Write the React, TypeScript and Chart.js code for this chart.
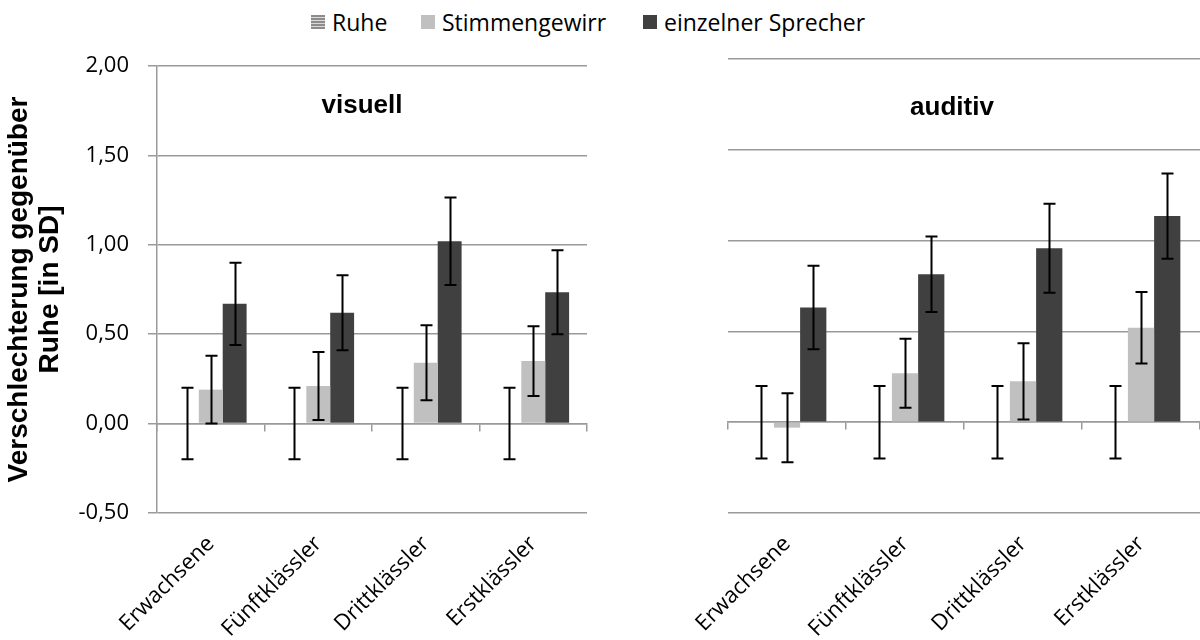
import React, { useEffect, useRef } from 'react';
import { Chart, registerables } from 'chart.js';

Chart.register(...registerables);

// ---------- data ----------
const categories = ['Erwachsene', 'Fünftklässler', 'Drittklässler', 'Erstklässler'];
const seriesNames = ['Ruhe', 'Stimmengewirr', 'einzelner Sprecher'];
const yTickValues = [-0.5, 0, 0.5, 1, 1.5, 2];

const visuellRuhe = [0, 0, 0, 0];
const visuellRuheErr = [0.2, 0.2, 0.2, 0.2];
const visuellStimmen = [0.19, 0.21, 0.34, 0.35];
const visuellStimmenErr = [0.19, 0.19, 0.21, 0.195];
const visuellSprecher = [0.67, 0.62, 1.02, 0.735];
const visuellSprecherErr = [0.23, 0.21, 0.245, 0.235];

const auditivRuhe = [0, 0, 0, 0];
const auditivRuheErr = [0.2, 0.2, 0.2, 0.2];
const auditivStimmen = [-0.03, 0.27, 0.225, 0.52];
const auditivStimmenErr = [0.19, 0.19, 0.21, 0.197];
const auditivSprecher = [0.632, 0.815, 0.958, 1.135];
const auditivSprecherErr = [0.23, 0.208, 0.245, 0.235];

// ---------- styles ----------
const COLOR_RUHE = '#a6a6a6';
const COLOR_STIMMEN = '#c0c0c0';
const COLOR_SPRECHER = '#404040';
const GRID = '#9a9a9a';
const LABEL_FONT = 'Open Sans';
const TITLE_FONT = 'Liberation Sans';

const errorBarPlugin = {
  id: 'errorBars',
  afterDatasetsDraw(chart: any) {
    const { ctx } = chart;
    const yScale = chart.scales.y;
    chart.data.datasets.forEach((ds: any, di: number) => {
      const errs: number[] | undefined = ds.errors;
      if (!errs) return;
      const meta = chart.getDatasetMeta(di);
      meta.data.forEach((bar: any, i: number) => {
        const v = ds.data[i];
        const e = errs[i];
        const yt = yScale.getPixelForValue(v + e);
        const yb = yScale.getPixelForValue(v - e);
        const x = Math.round(bar.x) + 0.5;
        ctx.save();
        ctx.strokeStyle = '#000';
        ctx.lineWidth = 2;
        ctx.beginPath();
        ctx.moveTo(x, yt);
        ctx.lineTo(x, yb);
        ctx.moveTo(x - 6, yt);
        ctx.lineTo(x + 6, yt);
        ctx.moveTo(x - 6, yb);
        ctx.lineTo(x + 6, yb);
        ctx.stroke();
        ctx.restore();
      });
    });
  },
};

const panelTitlePlugin = {
  id: 'panelTitle',
  afterDraw(chart: any, _args: any, opts: any) {
    if (!opts || !opts.text) return;
    const { ctx, chartArea } = chart;
    const yScale = chart.scales.y;
    const x = (chartArea.left + chartArea.right) / 2 + (opts.dx || 0);
    const y = yScale.getPixelForValue(opts.value);
    ctx.save();
    ctx.font = `bold 26px "${TITLE_FONT}"`;
    ctx.fillStyle = '#000';
    ctx.textAlign = 'center';
    ctx.textBaseline = 'middle';
    ctx.fillText(opts.text, x, y);
    ctx.restore();
  },
};

function makeConfig(
  title: string,
  titleValue: number,
  ruhe: number[], ruheErr: number[],
  stim: number[], stimErr: number[],
  spr: number[], sprErr: number[],
  isLeft: boolean,
): any {
  return {
    type: 'bar',
    data: {
      labels: categories,
      datasets: [
        { label: seriesNames[0], data: ruhe, errors: ruheErr, backgroundColor: COLOR_RUHE },
        { label: seriesNames[1], data: stim, errors: stimErr, backgroundColor: COLOR_STIMMEN },
        { label: seriesNames[2], data: spr, errors: sprErr, backgroundColor: COLOR_SPRECHER },
      ],
    },
    plugins: [errorBarPlugin, panelTitlePlugin],
    options: {
      responsive: false,
      animation: false,
      layout: { padding: { left: 0, right: isLeft ? 13 : 0, top: isLeft ? 26 : 19, bottom: 0 } },
      datasets: { bar: { categoryPercentage: 0.667, barPercentage: 1.0, borderWidth: 0 } },
      plugins: {
        legend: { display: false },
        tooltip: { enabled: false },
        title: { display: false },
        panelTitle: { text: title, value: titleValue, dx: isLeft ? -10 : -12 },
      },
      scales: {
        x: {
          type: 'category',
          position: 'bottom',
          offset: true,
          grid: { display: false, offset: true },
          border: { display: false },
          ticks: {
            maxRotation: 45,
            minRotation: 45,
            autoSkip: false,
            color: '#000',
            padding: 10,
            font: { family: LABEL_FONT, size: 22 },
          },
          afterFit: (scale: any) => { scale.height = 127; },
        },
        xz: {
          type: 'category',
          position: { y: 0 },
          offset: true,
          grid: { offset: true, drawOnChartArea: false, drawTicks: true, tickLength: 7, color: GRID, lineWidth: 1.5 },
          border: { display: true, color: GRID, width: 1.5 },
          ticks: { display: false },
        },
        y: {
          type: 'linear',
          min: -0.5,
          max: 2,
          afterBuildTicks: (scale: any) => { scale.ticks = yTickValues.map((v) => ({ value: v })); },
          afterFit: (scale: any) => {
            scale.width = isLeft ? 157 : 128;
            scale.paddingTop = 0;
            scale.paddingBottom = 0;
          },
          grid: {
            color: GRID,
            lineWidth: 1.5,
            drawTicks: isLeft,
            tickLength: 9,
          },
          border: { display: isLeft, color: GRID, width: 1.5 },
          ticks: {
            display: isLeft,
            color: '#000',
            padding: 19,
            font: { family: LABEL_FONT, size: 22 },
            callback: (v: any) => Number(v).toFixed(2).replace('.', ','),
          },
          title: {
            display: isLeft,
            text: ['Verschlechterung gegenüber', 'Ruhe [in SD]'],
            color: '#000',
            font: { family: TITLE_FONT, size: 28, weight: 'bold', lineHeight: 1.1 },
            padding: { top: 4, bottom: 0 },
          },
        },
      },
    },
  };
}

function Panel({ config, left, top }: { config: any; left: number; top: number }) {
  const ref = useRef<HTMLCanvasElement>(null);
  useEffect(() => {
    const chart = new Chart(ref.current as HTMLCanvasElement, config);
    return () => chart.destroy();
  }, [config]);
  return (
    <canvas
      ref={ref}
      width={600}
      height={600}
      style={{ position: 'absolute', left, top, width: 600, height: 600 }}
    />
  );
}

const legendSwatches = [
  { name: seriesNames[0], left: 311, bg: `repeating-linear-gradient(to bottom, #8c8c8c 0px, #8c8c8c 2px, #d9d9d9 2px, #d9d9d9 3px)` },
  { name: seriesNames[1], left: 421, bg: COLOR_STIMMEN },
  { name: seriesNames[2], left: 643, bg: COLOR_SPRECHER },
];

const visuellConfig = makeConfig('visuell', 1.78, visuellRuhe, visuellRuheErr, visuellStimmen, visuellStimmenErr, visuellSprecher, visuellSprecherErr, true);
const auditivConfig = makeConfig('auditiv', 1.73, auditivRuhe, auditivRuheErr, auditivStimmen, auditivStimmenErr, auditivSprecher, auditivSprecherErr, false);

export default function App() {
  return (
    <div style={{ position: 'fixed', left: 0, top: 0, width: 1200, height: 640, background: '#fff', overflow: 'hidden' }}>
      {legendSwatches.map((s) => (
        <div
          key={s.name}
          style={{
            position: 'absolute',
            left: s.left,
            top: 7,
            height: 30,
            display: 'flex',
            alignItems: 'center',
            fontFamily: LABEL_FONT,
            fontSize: 23,
            color: '#000',
            whiteSpace: 'nowrap',
          }}
        >
          <span style={{ display: 'inline-block', width: 14, height: 14, background: s.bg, marginRight: 7 }} />
          <span>{s.name}</span>
        </div>
      ))}
      <Panel config={visuellConfig} left={0} top={40} />
      <Panel config={auditivConfig} left={600} top={40} />
    </div>
  );
}
